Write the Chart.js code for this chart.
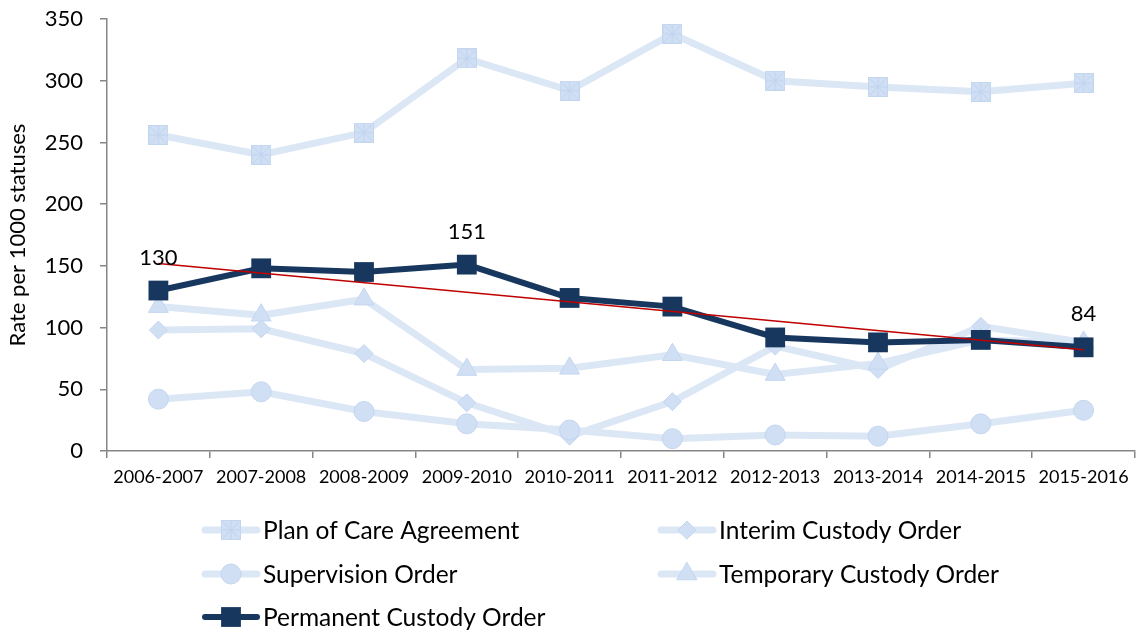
<!DOCTYPE html>
<html>
<head>
<meta charset="utf-8">
<script src="https://cdn.jsdelivr.net/npm/chart.js@4.4.0/dist/chart.umd.min.js"></script>
<style>
  html, body { margin: 0; padding: 0; background: #fff; }
  #wrap { width: 1136px; height: 633px; }
</style>
</head>
<body>
<div id="wrap"><canvas id="chart" width="1136" height="633"></canvas></div>
<script>
const years = ["2006-2007", "2007-2008", "2008-2009", "2009-2010", "2010-2011",
  "2011-2012", "2012-2013", "2013-2014", "2014-2015", "2015-2016"];

const planOfCare = [256, 240, 258, 318, 292, 338, 300, 295, 291, 298];
const interimCustody = [98, 99, 79, 39, 12, 40, 85, 66, 101, 88];
const supervision = [42, 48, 32, 22, 17, 10, 13, 12, 22, 33];
const temporaryCustody = [117, 110, 123, 66, 67, 78, 62, 71, 90, 88];
const permanentCustody = [130, 148, 145, 151, 124, 117, 92, 88, 90, 84];
// trend line end points
const trendEnds = [152, 82];
const labelledPoints = [0, 3, 9];

const yTicks = [0, 50, 100, 150, 200, 250, 300, 350];

const FONT = "Lato";
const lightLine = "#dce7f6";
const lightFill = "#d0dff4";
const lightBorder = "#c3d6f0";
const darkBlue = "#17375e";

// square with an asterisk, like the Excel marker
const squareStar = document.createElement("canvas");
squareStar.width = 20;
squareStar.height = 20;
(() => {
  const c = squareStar.getContext("2d");
  c.fillStyle = lightFill;
  c.fillRect(0.5, 0.5, 19, 19);
  c.strokeStyle = lightBorder;
  c.lineWidth = 1;
  c.strokeRect(0.5, 0.5, 19, 19);
  c.strokeStyle = "#bfd3ee";
  c.beginPath();
  c.moveTo(10, 1); c.lineTo(10, 19);
  c.moveTo(1, 10); c.lineTo(19, 10);
  c.moveTo(2, 2); c.lineTo(18, 18);
  c.moveTo(18, 2); c.lineTo(2, 18);
  c.stroke();
})();

const trendData = years.map((y, i) => i === 0 ? trendEnds[0] : (i === years.length - 1 ? trendEnds[1] : null));

const lightSet = (label, data, style, radius, order) => ({
  label, data,
  borderColor: lightLine,
  borderWidth: 7,
  pointStyle: style,
  pointRadius: radius,
  pointBackgroundColor: lightFill,
  pointBorderColor: lightBorder,
  pointBorderWidth: 1,
  order,
});

const datasets = [
  lightSet("Plan of Care Agreement", planOfCare, squareStar, 10, 6),
  lightSet("Interim Custody Order", interimCustody, "rectRot", 9, 5),
  lightSet("Supervision Order", supervision, "circle", 10, 4),
  lightSet("Temporary Custody Order", temporaryCustody, "triangle", 11.5, 3),
  {
    label: "Permanent Custody Order",
    data: permanentCustody,
    borderColor: darkBlue,
    borderWidth: 6,
    pointStyle: "rect",
    pointRadius: 14,
    pointBackgroundColor: darkBlue,
    pointBorderColor: darkBlue,
    pointBorderWidth: 0,
    order: 1,
  },
  {
    label: "trend",
    data: trendData,
    borderColor: "#c00000",
    borderWidth: 1.5,
    pointRadius: 0,
    spanGaps: true,
    order: 0,
  },
];

const valueLabels = {
  id: "valueLabels",
  afterDatasetsDraw(chart) {
    const ctx = chart.ctx;
    const meta = chart.getDatasetMeta(4);
    ctx.save();
    ctx.font = `22px ${FONT}`;
    ctx.fillStyle = "#000";
    ctx.textAlign = "center";
    ctx.textBaseline = "middle";
    labelledPoints.forEach((i) => {
      const pt = meta.data[i];
      ctx.fillText(String(permanentCustody[i]), pt.x, pt.y - 33);
    });
    ctx.restore();
  },
};

const gridLegend = {
  id: "gridLegend",
  afterDraw(chart) {
    const ctx = chart.ctx;
    const cols = [205, 661];
    const rows = [530, 574, 617];
    ctx.save();
    ctx.font = `24.5px ${FONT}`;
    ctx.textBaseline = "middle";
    ctx.fillStyle = "#000";
    chart.data.datasets.slice(0, 5).forEach((ds, i) => {
      const x = cols[i % 2];
      const y = rows[Math.floor(i / 2)];
      ctx.strokeStyle = ds.borderColor;
      ctx.lineWidth = ds.borderWidth;
      ctx.lineCap = "round";
      ctx.beginPath();
      ctx.moveTo(x, y);
      ctx.lineTo(x + 52, y);
      ctx.stroke();
      ctx.fillStyle = ds.pointBackgroundColor;
      ctx.strokeStyle = ds.pointBorderColor;
      ctx.lineWidth = ds.pointBorderWidth;
      Chart.helpers.drawPoint(ctx, { pointStyle: ds.pointStyle, radius: ds.pointRadius, borderWidth: ds.pointBorderWidth, rotation: 0 }, x + 26, y);
      ctx.fillStyle = "#000";
      ctx.fillText(ds.label, x + 58, y + 1);
    });
    ctx.restore();
  },
};

new Chart(document.getElementById("chart"), {
  type: "line",
  data: { labels: years, datasets },
  plugins: [valueLabels, gridLegend],
  options: {
    responsive: false,
    animation: false,
    layout: { autoPadding: false, padding: { top: 19, right: 1, bottom: 142, left: 0 } },
    plugins: {
      legend: { display: false },
      tooltip: { enabled: false },
    },
    elements: { line: { tension: 0 } },
    scales: {
      x: {
        offset: true,
        afterFit: (scale) => {
          scale.height = 40;
          scale.paddingLeft = 0;
          scale.paddingRight = 0;
        },
        grid: {
          offset: true,
          drawOnChartArea: false,
          drawTicks: true,
          tickLength: 7,
          color: "#868686",
          lineWidth: 1.5,
        },
        border: { color: "#868686", width: 1.5 },
        ticks: {
          color: "#000",
          font: { family: FONT, size: 18 },
          padding: 8,
          maxRotation: 0,
          autoSkip: false,
        },
      },
      y: {
        min: 0,
        max: 350,
        afterFit: (scale) => {
          scale.width = 107;
          scale.paddingTop = 0;
          scale.paddingBottom = 0;
        },
        afterBuildTicks: (scale) => { scale.ticks = yTicks.map((v) => ({ value: v })); },
        grid: {
          drawOnChartArea: false,
          drawTicks: true,
          tickLength: 7,
          color: "#868686",
          lineWidth: 1.5,
        },
        border: { color: "#868686", width: 1.5 },
        ticks: {
          color: "#000",
          font: { family: FONT, size: 22 },
          padding: 17,
        },
        title: {
          display: true,
          text: "Rate per 1000 statuses",
          color: "#000",
          font: { family: FONT, size: 22 },
          padding: { top: 5, bottom: 0 },
        },
      },
    },
  },
});
</script>
</body>
</html>
